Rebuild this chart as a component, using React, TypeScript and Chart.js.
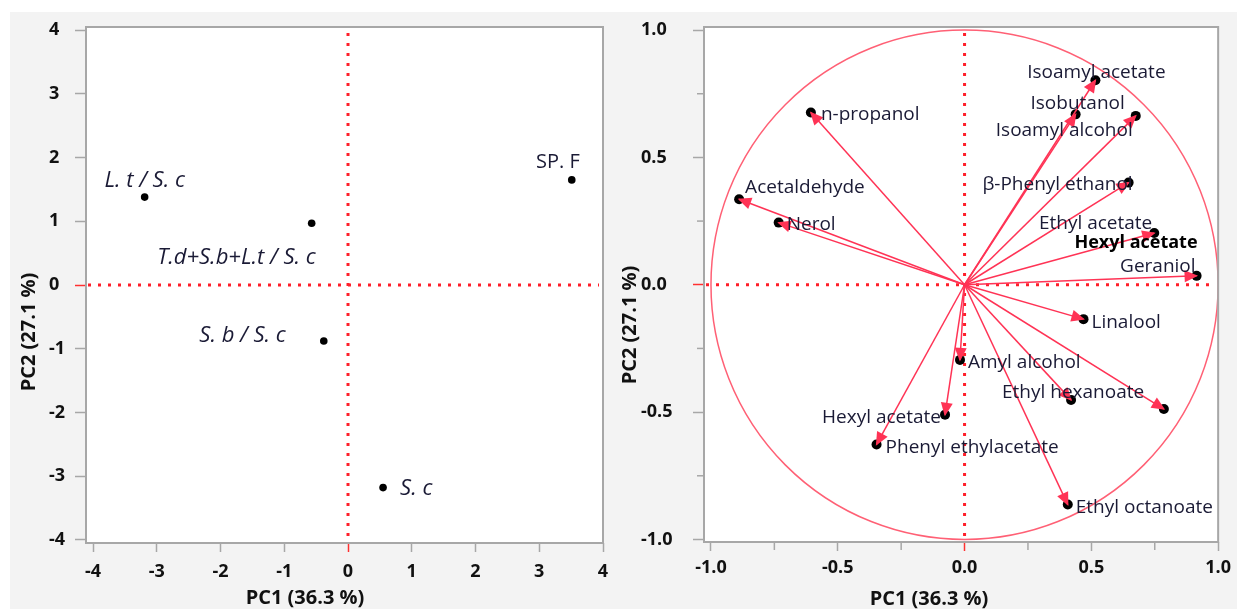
import React, { useEffect, useRef } from 'react';
import { Chart, registerables } from 'chart.js';

Chart.register(...registerables);

// ---------- Data: score plot (left) ----------
const sampleNames = ['L. t / S. c', 'T.d+S.b+L.t / S. c', 'SP. F', 'S. b / S. c', 'S. c'];
const samplePC1 = [-3.19, -0.57, 3.51, -0.38, 0.55];
const samplePC2 = [1.38, 0.97, 1.65, -0.88, -3.18];
const sampleItalic = [true, true, false, true, true];

// ---------- Data: loading plot (right) ----------
const compoundNames = [
  'Isoamyl acetate', 'Isobutanol', 'Isoamyl alcohol', 'n-propanol', 'β-Phenyl ethanol',
  'Acetaldehyde', 'Nerol', 'Ethyl acetate', 'Geraniol', 'Linalool', 'Amyl alcohol',
  'Ethyl hexanoate', '', 'Hexyl acetate', 'Phenyl ethylacetate', 'Ethyl octanoate',
];
const loadingPC1 = [0.516, 0.438, 0.675, -0.606, 0.647, -0.889, -0.733, 0.748, 0.915, 0.469, -0.018, 0.42, 0.786, -0.077, -0.347, 0.407];
const loadingPC2 = [0.803, 0.669, 0.663, 0.676, 0.401, 0.336, 0.244, 0.203, 0.035, -0.135, -0.295, -0.452, -0.488, -0.51, -0.627, -0.863];
const extraLabelText = 'Hexyl acetate';
const extraLabelPC1 = 0.676;
const extraLabelPC2 = 0.165;
const circleRadius = 1;

const axisTitleX = 'PC1 (36.3 %)';
const axisTitleY = 'PC2 (27.1 %)';

// ---------- Label placement (pixel offsets from the point) ----------
type Place = [number, number, CanvasTextAlign];
const samplePlacement: Place[] = [
  [0, -16, 'center'],
  [4, 35, 'right'],
  [8, -18, 'right'],
  [-38, -5, 'right'],
  [17, 1, 'left'],
];
const compoundPlacement: Place[] = [
  [1, -8, 'center'],
  [2, -11, 'center'],
  [-3, 15, 'right'],
  [10, 2, 'left'],
  [4, 2, 'right'],
  [6, -12, 'left'],
  [8, 2, 'left'],
  [-2, -9, 'right'],
  [-1, -9, 'right'],
  [8, 3, 'left'],
  [8, 3, 'left'],
  [2, -7, 'center'],
  [0, 0, 'left'],
  [-4, 3, 'right'],
  [9, 3, 'left'],
  [8, 3, 'left'],
];

const FONT = '"Open Sans", "Noto Sans", "DejaVu Sans", sans-serif';
const GRAY = '#a7a7a7';
const RED_DOT = '#ff1f2a';
const VEC = '#ff3355';
const CIRCLE = '#ff6075';
const LABEL_COLOR = '#1a1a35';

const isZero = (v: number) => Math.abs(v) < 1e-9;

const decorPlugin = {
  id: 'pcaDecor',
  beforeDraw(chart: any) {
    const { ctx, chartArea: a } = chart;
    ctx.save();
    ctx.fillStyle = '#ffffff';
    ctx.fillRect(a.left, a.top, a.right - a.left, a.bottom - a.top);
    ctx.restore();
  },
  beforeDatasetsDraw(chart: any, _args: any, opts: any) {
    const { ctx, chartArea: a, scales } = chart;
    const x = scales.x;
    const y = scales.y;
    const x0 = x.getPixelForValue(0);
    const y0 = y.getPixelForValue(0);
    ctx.save();
    if (opts.circle) {
      const rx = x.getPixelForValue(circleRadius) - x0;
      const ry = y0 - y.getPixelForValue(circleRadius);
      ctx.beginPath();
      ctx.ellipse(x0, y0, rx, ry, 0, 0, Math.PI * 2);
      ctx.strokeStyle = CIRCLE;
      ctx.lineWidth = 1.5;
      ctx.stroke();
    }
    ctx.strokeStyle = RED_DOT;
    ctx.lineWidth = 3;
    ctx.setLineDash([3, 7]);
    ctx.beginPath();
    ctx.moveTo(x0, a.top + 6);
    ctx.lineTo(x0, a.bottom);
    ctx.stroke();
    ctx.beginPath();
    ctx.moveTo(a.left + 2, y0);
    ctx.lineTo(a.right - 4, y0);
    ctx.stroke();
    ctx.restore();
  },
  afterDatasetsDraw(chart: any, _args: any, opts: any) {
    const { ctx, chartArea: a, scales } = chart;
    const x = scales.x;
    const y = scales.y;
    const x0 = x.getPixelForValue(0);
    const y0 = y.getPixelForValue(0);
    ctx.save();

    // arrowheads
    if (opts.arrowDataset !== undefined) {
      const meta = chart.getDatasetMeta(opts.arrowDataset);
      ctx.fillStyle = VEC;
      meta.data.forEach((pt: any) => {
        const ang = Math.atan2(pt.y - y0, pt.x - x0);
        const len = 12;
        const hw = 6;
        const bx = pt.x - Math.cos(ang) * len;
        const by = pt.y - Math.sin(ang) * len;
        ctx.beginPath();
        ctx.moveTo(pt.x + Math.cos(ang) * 1.5, pt.y + Math.sin(ang) * 1.5);
        ctx.lineTo(bx - Math.sin(ang) * hw, by + Math.cos(ang) * hw);
        ctx.lineTo(bx + Math.sin(ang) * hw, by - Math.cos(ang) * hw);
        ctx.closePath();
        ctx.fill();
      });
    }

    // point labels
    const names: string[] = opts.names;
    const xs: number[] = opts.xs;
    const ys: number[] = opts.ys;
    const place: Place[] = opts.place;
    ctx.textBaseline = 'middle';
    ctx.fillStyle = LABEL_COLOR;
    names.forEach((name, i) => {
      if (!name) return;
      const px = x.getPixelForValue(xs[i]);
      const py = y.getPixelForValue(ys[i]);
      const italic = opts.italic ? opts.italic[i] : false;
      const size = italic ? opts.italicSize : opts.labelSize;
      ctx.font = `${italic ? 'italic ' : ''}${size}px ${FONT}`;
      ctx.textAlign = place[i][2];
      ctx.fillText(name, px + place[i][0], py + place[i][1]);
    });
    if (opts.extra) {
      ctx.font = `bold 18px ${FONT}`;
      ctx.fillStyle = '#000';
      ctx.textAlign = 'center';
      ctx.fillText(opts.extra.text, x.getPixelForValue(opts.extra.x), y.getPixelForValue(opts.extra.y));
    }

    // frame
    ctx.strokeStyle = GRAY;
    ctx.lineWidth = 2;
    ctx.setLineDash([]);
    ctx.strokeRect(a.left, a.top, a.right - a.left, a.bottom - a.top);

    // minor ticks
    if (opts.majorStep) {
      ctx.lineWidth = 1.5;
      const isMinor = (v: number) => Math.abs(v / opts.majorStep - Math.round(v / opts.majorStep)) > 1e-6;
      x.ticks.forEach((t: any) => {
        if (!isMinor(t.value)) return;
        const px = x.getPixelForValue(t.value);
        ctx.beginPath();
        ctx.moveTo(px, a.bottom + 1);
        ctx.lineTo(px, a.bottom + 8);
        ctx.stroke();
      });
      y.ticks.forEach((t: any) => {
        if (!isMinor(t.value)) return;
        const py = y.getPixelForValue(t.value);
        ctx.beginPath();
        ctx.moveTo(a.left - 7, py);
        ctx.lineTo(a.left, py);
        ctx.stroke();
      });
    }

    // axis titles
    ctx.fillStyle = '#111';
    ctx.font = `bold 20px ${FONT}`;
    ctx.textAlign = 'center';
    ctx.textBaseline = 'middle';
    ctx.fillText(axisTitleX, opts.xTitle[0], opts.xTitle[1]);
    ctx.translate(opts.yTitle[0], opts.yTitle[1]);
    ctx.rotate(-Math.PI / 2);
    ctx.fillText(axisTitleY, 0, 0);
    ctx.restore();
  },
};

function tickColorFn(majorStep: number) {
  return (c: any) => {
    const v = c.tick ? c.tick.value : 1;
    if (isZero(v)) return '#ff3030';
    if (Math.abs(v / majorStep - Math.round(v / majorStep)) > 1e-6) return 'rgba(0,0,0,0)';
    return GRAY;
  };
}

function axis(opts: {
  pos: 'bottom' | 'left'; min: number; max: number; step: number; major: number;
  size: number; fmt: (v: number) => string; padding: number;
}) {
  const horizontal = opts.pos === 'bottom';
  return {
    type: 'linear' as const,
    position: opts.pos,
    min: opts.min,
    max: opts.max,
    afterFit: (s: any) => {
      if (horizontal) s.height = opts.size;
      else s.width = opts.size;
    },
    border: { display: false },
    grid: {
      drawOnChartArea: false,
      drawTicks: true,
      tickLength: horizontal ? 9 : 11,
      tickWidth: 1.5,
      tickColor: tickColorFn(opts.major),
    },
    ticks: {
      stepSize: opts.step,
      includeBounds: false,
      autoSkip: false,
      maxRotation: 0,
      minRotation: 0,
      padding: opts.padding,
      crossAlign: horizontal ? 'near' : 'far',
      color: '#111',
      font: { family: FONT, size: 18, weight: 'bold' },
      callback: (v: any) => {
        const n = Number(v);
        if (Math.abs(n / opts.major - Math.round(n / opts.major)) > 1e-6) return '';
        return opts.fmt(n);
      },
    },
  };
}

function useChart(build: (c: HTMLCanvasElement) => Chart) {
  const ref = useRef<HTMLCanvasElement | null>(null);
  useEffect(() => {
    if (!ref.current) return;
    const ch = build(ref.current);
    return () => ch.destroy();
  }, []);
  return ref;
}

function ScorePlot() {
  const ref = useChart((canvas) =>
    new Chart(canvas, {
      type: 'scatter',
      data: {
        datasets: [
          {
            data: samplePC1.map((x, i) => ({ x, y: samplePC2[i] })),
            pointRadius: 3.8,
            pointHoverRadius: 3.8,
            pointBackgroundColor: '#000',
            pointBorderWidth: 0,
          },
        ],
      },
      options: {
        responsive: false,
        animation: false,
        events: [],
        layout: { padding: { left: 49, top: 27, right: 17, bottom: 0 } },
        plugins: {
          legend: { display: false },
          tooltip: { enabled: false },
          pcaDecor: {
            names: sampleNames,
            xs: samplePC1,
            ys: samplePC2,
            place: samplePlacement,
            italic: sampleItalic,
            labelSize: 20,
            italicSize: 22,
            xTitle: [305, 598],
            yTitle: [29, 332],
          },
        } as any,
        scales: {
          x: axis({ pos: 'bottom', min: -4.11, max: 4, step: 1, major: 1, size: 66, padding: 9, fmt: (v) => String(v) }),
          y: axis({ pos: 'left', min: -4.05, max: 4.05, step: 1, major: 1, size: 37, padding: 0, fmt: (v) => String(v) }),
        } as any,
      },
      plugins: [decorPlugin],
    })
  );
  return <canvas ref={ref} width={620} height={609} style={{ position: 'absolute', left: 0, top: 0, width: 620, height: 609 }} />;
}

function LoadingPlot() {
  const ref = useChart((canvas) => {
    const vectors = loadingPC1.map((x, i) => ({
      data: [{ x: 0, y: 0 }, { x, y: loadingPC2[i] }],
      showLine: true,
      borderColor: VEC,
      borderWidth: 1.5,
      pointRadius: 0,
      pointHoverRadius: 0,
      fill: false,
    }));
    const endpoints = {
      data: loadingPC1.map((x, i) => ({ x, y: loadingPC2[i] })),
      pointRadius: 5,
      pointHoverRadius: 5,
      pointBackgroundColor: '#000',
      pointBorderWidth: 0,
      showLine: false,
    };
    return new Chart(canvas, {
      type: 'scatter',
      data: { datasets: [...vectors, endpoints] as any },
      options: {
        responsive: false,
        animation: false,
        events: [],
        layout: { padding: { left: 21, top: 27, right: 17, bottom: 0 } },
        plugins: {
          legend: { display: false },
          tooltip: { enabled: false },
          pcaDecor: {
            circle: true,
            arrowDataset: vectors.length,
            names: compoundNames,
            xs: loadingPC1,
            ys: loadingPC2,
            place: compoundPlacement,
            labelSize: 19,
            italicSize: 19,
            extra: { text: extraLabelText, x: extraLabelPC1, y: extraLabelPC2 },
            majorStep: 0.5,
            xTitle: [309, 599],
            yTitle: [10, 325],
          },
        } as any,
        scales: {
          x: axis({ pos: 'bottom', min: -1.0275, max: 1.0, step: 0.25, major: 0.5, size: 67, padding: 6, fmt: (v) => v.toFixed(1) }),
          y: axis({ pos: 'left', min: -1.01, max: 1.012, step: 0.25, major: 0.5, size: 63, padding: 0, fmt: (v) => v.toFixed(1) }),
        } as any,
      },
      plugins: [decorPlugin],
    });
  });
  return <canvas ref={ref} width={617} height={609} style={{ position: 'absolute', left: 620, top: 0, width: 617, height: 609 }} />;
}

export default function App() {
  return (
    <div style={{ position: 'fixed', left: 0, top: 0, width: 1237, height: 609, background: '#ffffff', overflow: 'hidden' }}>
      <div style={{ position: 'absolute', left: 10, top: 12, right: 0, bottom: 0, background: '#f3f3f3' }} />
      <ScorePlot />
      <LoadingPlot />
    </div>
  );
}
